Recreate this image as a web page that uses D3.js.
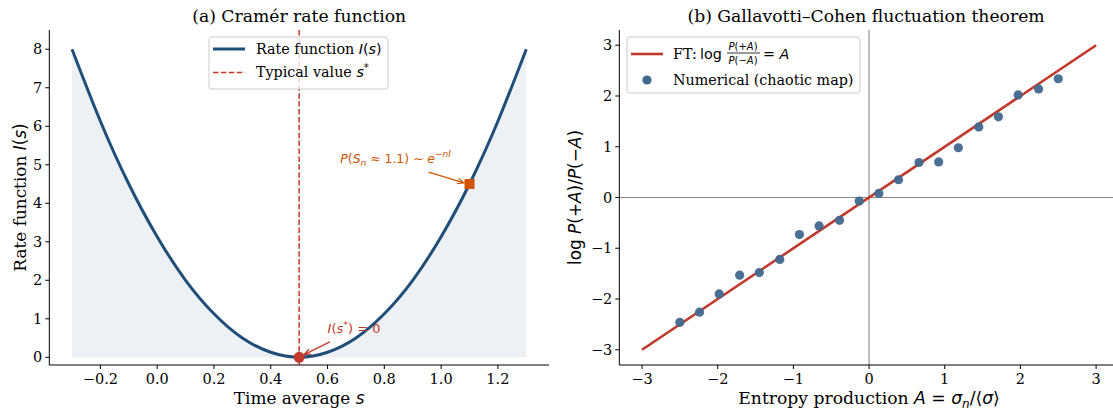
<!DOCTYPE html>
<html><head><meta charset="utf-8">
<script src="https://cdn.jsdelivr.net/npm/d3@7"></script>
<style>
html,body{margin:0;padding:0;background:#fff;}
svg{display:block;}
text{fill:#000;}
</style></head>
<body>
<script>
// ---------- data ----------
const sValues    = [-0.3,-0.2,-0.1,0.0,0.1,0.2,0.3,0.4,0.5,0.6,0.7,0.8,0.9,1.0,1.1,1.2,1.3];
const rateValues = [8.00,6.13,4.50,3.13,2.00,1.13,0.50,0.13,0.00,0.13,0.50,1.13,2.00,3.13,4.50,6.13,8.00];
const typicalS = 0.5;
const markS = 1.1, markI = 4.5;
const leftXTicks = [-0.2,0.0,0.2,0.4,0.6,0.8,1.0,1.2];
const leftYTicks = [0,1,2,3,4,5,6,7,8];

const ftA   = [-3, 3];
const ftLog = [-3, 3];
const numA   = [-2.50,-2.24,-1.98,-1.71,-1.45,-1.18,-0.92,-0.66,-0.39,-0.13,0.13,0.39,0.66,0.92,1.18,1.45,1.71,1.97,2.24,2.50];
const numLog = [-2.46,-2.26,-1.90,-1.53,-1.48,-1.22,-0.73,-0.56,-0.45,-0.07,0.08,0.35,0.69,0.70,0.98,1.39,1.59,2.02,2.14,2.34];
const rightTicks = [-3,-2,-1,0,1,2,3];

// ---------- styles ----------
const SERIF = "'DejaVu Serif', serif";
const SANS = "'DejaVu Sans', sans-serif";
const BLUE = "#1f4e79", RED = "#c0392b", ORANGE = "#d35400", DOT = "#41688f";
const W = 1113, H = 412;
const svg = d3.select("body").append("svg").attr("width", W).attr("height", H);

// ---------- left panel ----------
const L = {x0: 49.3, x1: 549, y0: 30, y1: 365};
const xL = d3.scaleLinear().domain([-0.38, 1.38]).range([L.x0, L.x1]);
const yL = d3.scaleLinear().domain([-0.2, 8.5]).range([L.y1, L.y0]);
const gL = svg.append("g");

const pts = sValues.map((s,i)=>[s, rateValues[i]]);
gL.append("path")
  .attr("d", d3.area().x(d=>xL(d[0])).y0(yL(0)).y1(d=>yL(d[1])).curve(d3.curveNatural)(pts))
  .attr("fill", BLUE).attr("fill-opacity", 0.08);
gL.append("line").attr("x1", xL(typicalS)).attr("x2", xL(typicalS))
  .attr("y1", L.y0).attr("y2", L.y1)
  .attr("stroke", RED).attr("stroke-width", 1.5).attr("stroke-dasharray", "5.5,2.4");
gL.append("path")
  .attr("d", d3.line().x(d=>xL(d[0])).y(d=>yL(d[1])).curve(d3.curveNatural)(pts))
  .attr("fill", "none").attr("stroke", BLUE).attr("stroke-width", 3);
gL.append("circle").attr("cx", xL(typicalS)).attr("cy", yL(0)).attr("r", 5.5).attr("fill", RED);
gL.append("rect").attr("x", xL(markS)-5).attr("y", yL(markI)-5).attr("width", 10).attr("height", 10).attr("fill", ORANGE);

function arrow(g, x1, y1, x2, y2, color) {
  g.append("line").attr("x1", x1).attr("y1", y1).attr("x2", x2).attr("y2", y2)
    .attr("stroke", color).attr("stroke-width", 1.3);
  const ang = Math.atan2(y2-y1, x2-x1), len = 7, spread = 0.4;
  const p = d3.path();
  p.moveTo(x2 - len*Math.cos(ang-spread), y2 - len*Math.sin(ang-spread));
  p.lineTo(x2, y2);
  p.lineTo(x2 - len*Math.cos(ang+spread), y2 - len*Math.sin(ang+spread));
  g.append("path").attr("d", p.toString()).attr("fill", "none").attr("stroke", color).attr("stroke-width", 1.3);
}
// annotation: P(S_n ≈ 1.1) ~ e^{-nI}
arrow(gL, xL(0.956), yL(4.81), xL(1.08), yL(4.53), ORANGE);
{
  const t = gL.append("text").attr("x", xL(0.645)).attr("y", yL(5.05))
    .attr("font-family", SANS).attr("font-size", 12.4).style("fill", ORANGE);
  t.append("tspan").attr("font-style","italic").text("P");
  t.append("tspan").text("(");
  t.append("tspan").attr("font-style","italic").text("S");
  t.append("tspan").attr("font-style","italic").attr("font-size",9).attr("dy",3).text("n");
  t.append("tspan").attr("dy",-3).text(" \u2248 1.1) \u223C ");
  t.append("tspan").attr("font-style","italic").text("e");
  t.append("tspan").attr("font-size",9).attr("dy",-6).text("\u2212");
  t.append("tspan").attr("font-size",9).attr("font-style","italic").text("nI");
}
// annotation: I(s*) = 0
arrow(gL, xL(0.608), yL(0.40), xL(0.518), yL(0.07), RED);
{
  const t = gL.append("text").attr("x", xL(0.6)).attr("y", yL(0.63))
    .attr("font-family", SANS).attr("font-size", 13).style("fill", RED);
  t.append("tspan").attr("font-style","italic").text("I");
  t.append("tspan").text("(");
  t.append("tspan").attr("font-style","italic").text("s");
  t.append("tspan").attr("font-size",9.5).attr("dy",-5).text("*");
  t.append("tspan").attr("dy",5).text(") = 0");
}

// axes
function drawAxes(g, box, xs, ys, xt, yt, xfmt, yfmt) {
  g.append("line").attr("x1", box.x0).attr("x2", box.x1).attr("y1", box.y1).attr("y2", box.y1).attr("stroke","#000").attr("stroke-width",1);
  g.append("line").attr("x1", box.x0).attr("x2", box.x0).attr("y1", box.y0).attr("y2", box.y1).attr("stroke","#000").attr("stroke-width",1);
  xt.forEach(v=>{
    const x = xs(v);
    g.append("line").attr("x1",x).attr("x2",x).attr("y1",box.y1).attr("y2",box.y1+4).attr("stroke","#000");
    g.append("text").attr("x", x).attr("y", box.y1+18.5).attr("text-anchor","middle")
      .attr("font-family", SERIF).attr("font-size", 14.5).text(xfmt(v));
  });
  yt.forEach(v=>{
    const y = ys(v);
    g.append("line").attr("x1",box.x0-4).attr("x2",box.x0).attr("y1",y).attr("y2",y).attr("stroke","#000");
    g.append("text").attr("x", box.x0-7).attr("y", y+5).attr("text-anchor","end")
      .attr("font-family", SERIF).attr("font-size", 14.5).text(yfmt(v));
  });
}
const f1 = v => (v<0?"\u2212":"") + Math.abs(v).toFixed(1);
const f0 = v => (v<0?"\u2212":"") + Math.abs(v).toFixed(0);
drawAxes(gL, L, xL, yL, leftXTicks, leftYTicks, f1, f0);

// labels
gL.append("text").attr("x", (L.x0+L.x1)/2).attr("y", 21.5).attr("text-anchor","middle")
  .attr("font-family", SERIF).attr("font-size", 17.2).text("(a) Cram\u00e9r rate function");
{
  const t = gL.append("text").attr("x", (L.x0+L.x1)/2).attr("y", 403.5).attr("text-anchor","middle")
    .attr("font-family", SERIF).attr("font-size", 16.9);
  t.append("tspan").text("Time average ");
  t.append("tspan").attr("font-family", SANS).attr("font-style","italic").text("s");
}
{
  const t = gL.append("text").attr("transform", `translate(26,${(L.y0+L.y1)/2}) rotate(-90)`).attr("text-anchor","middle")
    .attr("font-family", SERIF).attr("font-size", 16.9);
  t.append("tspan").text("Rate function ");
  t.append("tspan").attr("font-family", SANS).attr("font-style","italic").text("I");
  t.append("tspan").attr("font-family", SANS).text("(");
  t.append("tspan").attr("font-family", SANS).attr("font-style","italic").text("s");
  t.append("tspan").attr("font-family", SANS).text(")");
}
// legend left
{
  const lg = gL.append("g");
  lg.append("rect").attr("x",209).attr("y",37).attr("width",179).attr("height",52).attr("rx",3)
    .attr("fill","#fff").attr("fill-opacity",0.8).attr("stroke","#cccccc").attr("stroke-width",1);
  lg.append("line").attr("x1",213).attr("x2",245).attr("y1",49).attr("y2",49).attr("stroke",BLUE).attr("stroke-width",3);
  lg.append("line").attr("x1",213).attr("x2",245).attr("y1",72.5).attr("y2",72.5).attr("stroke",RED).attr("stroke-width",1.5).attr("stroke-dasharray","5.5,2.4");
  const t1 = lg.append("text").attr("x",256).attr("y",54).attr("font-family",SERIF).attr("font-size",14.3);
  t1.append("tspan").text("Rate function ");
  t1.append("tspan").attr("font-family",SANS).attr("font-style","italic").text("I");
  t1.append("tspan").attr("font-family",SANS).text("(");
  t1.append("tspan").attr("font-family",SANS).attr("font-style","italic").text("s");
  t1.append("tspan").attr("font-family",SANS).text(")");
  const t2 = lg.append("text").attr("x",256).attr("y",77).attr("font-family",SERIF).attr("font-size",14.3);
  t2.append("tspan").text("Typical value ");
  t2.append("tspan").attr("font-family",SANS).attr("font-style","italic").text("s");
  t2.append("tspan").attr("font-family",SANS).attr("font-size",10).attr("dy",-6).text("*");
}

// ---------- right panel ----------
const R = {x0: 619.3, x1: 1118.8, y0: 30, y1: 365};
const xR = d3.scaleLinear().domain([-3.3, 3.3]).range([R.x0, R.x1]);
const yR = d3.scaleLinear().domain([-3.3, 3.3]).range([R.y1, R.y0]);
const gR = svg.append("g");
gR.append("line").attr("x1",R.x0).attr("x2",R.x1).attr("y1",yR(0)).attr("y2",yR(0)).attr("stroke","#888").attr("stroke-width",1.1);
gR.append("line").attr("x1",xR(0)).attr("x2",xR(0)).attr("y1",R.y0).attr("y2",R.y1).attr("stroke","#888").attr("stroke-width",1.1);
gR.append("path").attr("d", d3.line().x(d=>xR(d[0])).y(d=>yR(d[1]))(ftA.map((a,i)=>[a, ftLog[i]])))
  .attr("stroke", RED).attr("stroke-width", 2.6).attr("fill","none");
gR.selectAll("circle.pt").data(numA.map((a,i)=>[a, numLog[i]])).enter().append("circle")
  .attr("cx", d=>xR(d[0])).attr("cy", d=>yR(d[1])).attr("r", 4.6).attr("fill", DOT).attr("fill-opacity",0.95);
drawAxes(gR, R, xR, yR, rightTicks, rightTicks, f0, f0);

gR.append("text").attr("x", (R.x0+R.x1)/2 - 3).attr("y", 21.5).attr("text-anchor","middle")
  .attr("font-family", SERIF).attr("font-size", 17.2).text("(b) Gallavotti\u2013Cohen fluctuation theorem");
{
  const t = gR.append("text").attr("x", xR(0)).attr("y", 404).attr("text-anchor","middle")
    .attr("font-family", SERIF).attr("font-size", 17.2);
  t.append("tspan").text("Entropy production ");
  t.append("tspan").attr("font-family",SANS).attr("font-style","italic").text("A");
  t.append("tspan").attr("font-family",SANS).text(" = ");
  t.append("tspan").attr("font-family",SANS).attr("font-style","italic").text("\u03c3");
  t.append("tspan").attr("font-family",SANS).attr("font-style","italic").attr("font-size",12).attr("dy",3.5).text("n");
  t.append("tspan").attr("font-family",SANS).attr("dy",-3.5).text("/\u27e8");
  t.append("tspan").attr("font-family",SANS).attr("font-style","italic").text("\u03c3");
  t.append("tspan").attr("font-family",SANS).text("\u27e9");
}
{
  const t = gR.append("text").attr("transform", `translate(581,${(R.y0+R.y1)/2}) rotate(-90)`).attr("text-anchor","middle")
    .attr("font-family", SANS).attr("font-size", 16.9);
  t.append("tspan").text("log ");
  t.append("tspan").attr("font-style","italic").text("P");
  t.append("tspan").text("(+");
  t.append("tspan").attr("font-style","italic").text("A");
  t.append("tspan").text(")/");
  t.append("tspan").attr("font-style","italic").text("P");
  t.append("tspan").text("(\u2212");
  t.append("tspan").attr("font-style","italic").text("A");
  t.append("tspan").text(")");
}
// legend right
{
  const lg = gR.append("g");
  lg.append("rect").attr("x",627).attr("y",37).attr("width",233).attr("height",56).attr("rx",3)
    .attr("fill","#fff").attr("fill-opacity",0.8).attr("stroke","#cccccc").attr("stroke-width",1);
  lg.append("line").attr("x1",631).attr("x2",663).attr("y1",54).attr("y2",54).attr("stroke",RED).attr("stroke-width",2.6);
  lg.append("circle").attr("cx",647).attr("cy",80).attr("r",4.6).attr("fill",DOT);
  lg.append("text").attr("x",673).attr("y",59).attr("font-family",SERIF).attr("font-size",14.3).text("FT:");
  lg.append("text").attr("x",700).attr("y",59).attr("font-family",SANS).attr("font-size",14.3).text("log");
  const fx = 743;
  const num = lg.append("text").attr("x",fx).attr("y",49.5).attr("text-anchor","middle").attr("font-family",SANS).attr("font-size",10);
  num.append("tspan").attr("font-style","italic").text("P");
  num.append("tspan").text("(+");
  num.append("tspan").attr("font-style","italic").text("A");
  num.append("tspan").text(")");
  lg.append("line").attr("x1",727).attr("x2",760).attr("y1",53).attr("y2",53).attr("stroke","#000").attr("stroke-width",0.8);
  const den = lg.append("text").attr("x",fx).attr("y",63.5).attr("text-anchor","middle").attr("font-family",SANS).attr("font-size",10);
  den.append("tspan").attr("font-style","italic").text("P");
  den.append("tspan").text("(\u2212");
  den.append("tspan").attr("font-style","italic").text("A");
  den.append("tspan").text(")");
  const eq = lg.append("text").attr("x",763).attr("y",59).attr("font-family",SANS).attr("font-size",14.3);
  eq.append("tspan").text("= ");
  eq.append("tspan").attr("font-style","italic").text("A");
  lg.append("text").attr("x",673).attr("y",85).attr("font-family",SERIF).attr("font-size",14.3).text("Numerical (chaotic map)");
}
</script>
</body></html>
